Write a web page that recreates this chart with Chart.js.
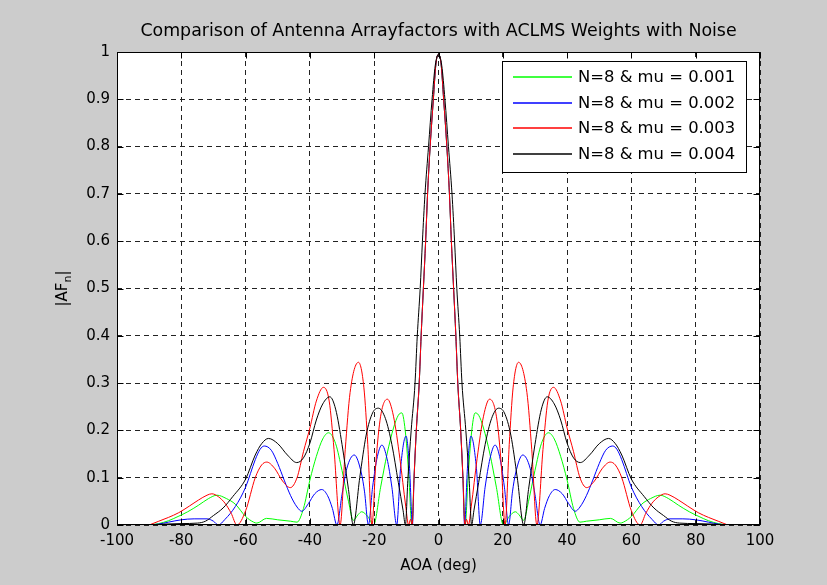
<!DOCTYPE html>
<html>
<head>
<meta charset="utf-8">
<script src="https://cdn.jsdelivr.net/npm/chart.js@4.4.0/dist/chart.umd.min.js"></script>
<style>
  body { margin: 0; background: #cccccc; }
  #wrap { width: 827px; height: 585px; }
</style>
</head>
<body>
<div id="wrap"><canvas id="afChart" width="827" height="585"></canvas></div>
<script>
/* ------------------------------------------- */
/* DATA -------------------------------------- */
/* ------------------------------------------- */
let xTicks = [-100, -80, -60, -40, -20, 0, 20, 40, 60, 80, 100];
let yTicks = [0, 0.1, 0.2, 0.3, 0.4, 0.5, 0.6, 0.7, 0.8, 0.9, 1];
let labels = ["N=8 & mu = 0.001", "N=8 & mu = 0.002", "N=8 & mu = 0.003", "N=8 & mu = 0.004"];

let aoaGreen = [-90,-87,-84,-81,-78,-74.6,-71.5,-68.9,-66,-63.2,-60,-57.5,-56.5,-53.5,-50,-46,-44,-42,-40,-38,-36,-34.2,-32,-30,-28,-26.5,-25,-23.9,-22,-20.2,-18,-16,-14,-12.5,-11.4,-10.2,-9.2,-8.3,-7.6,-6.9,-6,-5.4,-4.7,-4,-3.4,-2.6,-1.6,-0.8,
  0,0.8,1.6,2.6,3.4,4,4.7,5.4,6,6.9,7.6,8.3,9.2,10.2,11.4,12.5,14,16,18,20.2,22,23.9,25,26.5,28,30,32,34.2,36,38,40,42,44,46,50,53.5,56.5,57.5,60,63.2,66,68.9,71.5,74.6,78,81,84,87,90];
let afGreen = [0,0.003,0.009,0.018,0.028,0.042,0.056,0.063,0.056,0.044,0.018,0.006,0.004,0.014,0.011,0.008,0.006,0.035,0.095,0.145,0.182,0.195,0.172,0.115,0.05,0.01,0.022,0.028,0.018,0,0.08,0.15,0.205,0.232,0.237,0.19,0.1,0,0.1,0.2,0.3,0.4,0.5,0.6,0.7,0.8,0.9,0.975,
  0.995,0.975,0.9,0.8,0.7,0.6,0.5,0.4,0.3,0.2,0.1,0,0.1,0.19,0.237,0.232,0.205,0.15,0.08,0,0.018,0.028,0.022,0.01,0.05,0.115,0.172,0.195,0.182,0.145,0.095,0.035,0.006,0.008,0.011,0.014,0.004,0.006,0.018,0.044,0.056,0.063,0.056,0.042,0.028,0.018,0.009,0.003,0];

let aoaBlue = [-90,-87,-84,-80,-76,-72,-70,-68.5,-66.4,-63.2,-60,-57,-55.5,-54.2,-52,-50,-48,-46,-44,-42.5,-40.5,-38.5,-36.3,-34.5,-33,-31.6,-30,-28.5,-26.2,-24,-23,-21.8,-20.5,-19,-17.6,-16,-14.5,-13,-11.8,-10.1,-9,-8.1,-7.6,-6.9,-6,-5.4,-4.7,-4,-3.4,-2.6,-1.6,-0.8,
  0,0.8,1.6,2.6,3.4,4,4.7,5.4,6,6.9,7.6,8.1,9,10.1,11.8,13,14.5,16,17.6,19,20.5,21.8,23,24,26.2,28.5,30,31.6,33,34.5,36.3,38.5,40.5,42.5,44,46,48,50,52,54.2,55.5,57,60,63.2,66.4,68.5,70,72,76,80,84,87,90];
let afBlue = [0,0.002,0.006,0.011,0.013,0.013,0.008,0,0.012,0.039,0.08,0.138,0.16,0.167,0.158,0.13,0.095,0.062,0.038,0.029,0.045,0.066,0.075,0.062,0.035,0,0.065,0.12,0.148,0.11,0.07,0,0.08,0.145,0.169,0.14,0.08,0,0.12,0.188,0.12,0,0.1,0.2,0.3,0.4,0.5,0.6,0.7,0.8,0.9,0.975,
  0.995,0.975,0.9,0.8,0.7,0.6,0.5,0.4,0.3,0.2,0.1,0,0.12,0.188,0.12,0,0.08,0.14,0.169,0.145,0.08,0,0.07,0.11,0.148,0.12,0.065,0,0.035,0.062,0.075,0.066,0.045,0.029,0.038,0.062,0.095,0.13,0.158,0.167,0.16,0.138,0.08,0.039,0.012,0,0.008,0.013,0.013,0.011,0.006,0.002,0];

let aoaRed = [-90,-87,-84,-80.8,-77.5,-74.6,-72,-70.5,-68.5,-66.4,-64.5,-62.7,-60,-57,-55,-53.4,-51,-48.5,-46.1,-44,-42,-40,-38,-35.8,-34,-32.5,-30.6,-29,-27.5,-24.9,-23.2,-22,-20.7,-19.5,-18,-15.9,-14,-12,-10.2,-9.3,-8.7,-8.2,-7.6,-6.9,-6,-5.4,-4.7,-4,-3.4,-2.6,-1.6,-0.8,
  0,0.8,1.6,2.6,3.4,4,4.7,5.4,6,6.9,7.6,8.2,8.7,9.3,10.2,12,14,15.9,18,19.5,20.7,22,23.2,24.9,27.5,29,30.6,32.5,34,35.8,38,40,42,44,46.1,48.5,51,53.4,55,57,60,62.7,64.5,66.4,68.5,70.5,72,74.6,77.5,80.8,84,87,90];
let afRed = [0,0.008,0.016,0.026,0.04,0.053,0.063,0.066,0.06,0.046,0.025,0,0.03,0.1,0.127,0.133,0.12,0.093,0.079,0.1,0.155,0.205,0.262,0.291,0.262,0.16,0,0.16,0.28,0.344,0.29,0.17,0,0.13,0.23,0.266,0.23,0.14,0.04,0,0.012,0,0.1,0.2,0.3,0.4,0.5,0.6,0.7,0.8,0.9,0.975,
  0.995,0.975,0.9,0.8,0.7,0.6,0.5,0.4,0.3,0.2,0.1,0,0.012,0,0.04,0.14,0.23,0.266,0.23,0.13,0,0.17,0.29,0.344,0.28,0.16,0,0.16,0.262,0.291,0.262,0.205,0.155,0.1,0.079,0.093,0.12,0.133,0.127,0.1,0.03,0,0.025,0.046,0.06,0.066,0.063,0.053,0.04,0.026,0.016,0.008,0];

let aoaBlack = [-90,-85,-80,-75,-72.5,-70,-67,-64,-60,-57,-55,-52.9,-50,-47,-44.1,-42,-40,-38,-36,-33.8,-32,-30,-28,-26.5,-24.5,-22.5,-20.5,-18.7,-16.5,-14.5,-12.5,-11,-10.3,-9.5,-8.5,-7.3,-6.6,-5.7,-5,-4.2,-3.1,-2,-1,
  0,1,2,3.1,4.2,5,5.7,6.6,7.3,8.5,9.5,10.3,11,12.5,14.5,16.5,18.7,20.5,22.5,24.5,26.5,28,30,32,33.8,36,38,40,42,44.1,47,50,52.9,55,57,60,64,67,70,72.5,75,80,85,90];
let afBlack = [0,0.002,0.003,0.004,0.008,0.02,0.036,0.06,0.097,0.148,0.172,0.183,0.172,0.148,0.132,0.142,0.173,0.222,0.256,0.271,0.245,0.17,0.075,0,0.1,0.19,0.237,0.247,0.225,0.17,0.09,0.03,0,0.1,0.2,0.3,0.4,0.5,0.6,0.7,0.8,0.9,0.972,
  0.995,0.972,0.9,0.8,0.7,0.6,0.5,0.4,0.3,0.2,0.1,0,0.03,0.09,0.17,0.225,0.247,0.237,0.19,0.1,0,0.075,0.17,0.245,0.271,0.256,0.222,0.173,0.142,0.132,0.148,0.172,0.183,0.172,0.148,0.097,0.06,0.036,0.02,0.008,0.004,0.003,0.002,0];

let lineColors = ['#00ff00', '#0000ff', '#ff0000', '#000000'];

function toPoints(xs, ys) {
  return xs.map((x, i) => ({x: x, y: ys[i]}));
}

/* ------------------------------------------- */
/* MATLAB-LIKE DECORATION -------------------- */
/* ------------------------------------------- */
let FONT = '"DejaVu Sans", sans-serif';

let matlabLook = {
  id: 'matlabLook',
  beforeDraw(chart) {
    let ctx = chart.ctx;
    let a = chart.chartArea;
    ctx.save();
    ctx.fillStyle = '#cccccc';
    ctx.fillRect(0, 0, chart.width, chart.height);
    ctx.fillStyle = '#ffffff';
    ctx.fillRect(a.left, a.top, a.right - a.left, a.bottom - a.top);
    ctx.restore();
  },
  afterDraw(chart) {
    let ctx = chart.ctx;
    let a = chart.chartArea;
    let xs = chart.scales.x;
    let ys = chart.scales.y;
    let L = Math.round(a.left) + 0.5, R = Math.round(a.right) - 0.5;
    let T = Math.round(a.top) + 0.5, B = Math.round(a.bottom) - 0.5;
    ctx.save();
    ctx.strokeStyle = '#000';
    ctx.lineWidth = 1;
    ctx.setLineDash([]);
    ctx.strokeRect(L, T, R - L, B - T);

    // inward tick marks on all four sides
    ctx.beginPath();
    xTicks.forEach(v => {
      let px = Math.round(xs.getPixelForValue(v)) + 0.5;
      ctx.moveTo(px, B); ctx.lineTo(px, B - 6);
      ctx.moveTo(px, T); ctx.lineTo(px, T + 6);
    });
    yTicks.forEach(v => {
      let py = Math.round(ys.getPixelForValue(v)) + 0.5;
      ctx.moveTo(L, py); ctx.lineTo(L + 6, py);
      ctx.moveTo(R, py); ctx.lineTo(R - 6, py);
    });
    ctx.stroke();

    // title
    ctx.fillStyle = '#000';
    ctx.font = '17.4px ' + FONT;
    ctx.textAlign = 'center';
    ctx.textBaseline = 'middle';
    ctx.fillText('Comparison of Antenna Arrayfactors with ACLMS Weights with Noise', (a.left + a.right) / 2, 31);

    // x label
    ctx.font = '15px ' + FONT;
    ctx.fillText('AOA (deg)', (a.left + a.right) / 2, 566);

    // y label |AF_n|
    ctx.save();
    ctx.translate(63, (a.top + a.bottom) / 2);
    ctx.rotate(-Math.PI / 2);
    ctx.textAlign = 'left';
    ctx.textBaseline = 'middle';
    let big = '15px ' + FONT, small = '11px ' + FONT;
    ctx.font = big; let w1 = ctx.measureText('|AF').width;
    ctx.font = small; let w2 = ctx.measureText('n').width;
    ctx.font = big; let w3 = ctx.measureText('|').width;
    let x0 = -(w1 + w2 + w3) / 2;
    ctx.font = big; ctx.fillText('|AF', x0, 0);
    ctx.font = small; ctx.fillText('n', x0 + w1, 5);
    ctx.font = big; ctx.fillText('|', x0 + w1 + w2, 0);
    ctx.restore();

    // legend box
    let bx = 502, by = 61, bw = 244, bh = 111;
    ctx.fillStyle = '#fff';
    ctx.fillRect(bx, by, bw, bh);
    ctx.strokeStyle = '#000';
    ctx.strokeRect(bx + 0.5, by + 0.5, bw, bh);
    ctx.font = '16.4px ' + FONT;
    ctx.textAlign = 'left';
    ctx.textBaseline = 'middle';
    labels.forEach((lab, i) => {
      let ry = Math.round(77 + i * 25.7);
      ctx.strokeStyle = lineColors[i];
      ctx.lineWidth = 1.3;
      ctx.beginPath();
      ctx.moveTo(513, ry);
      ctx.lineTo(572, ry);
      ctx.stroke();
      ctx.fillStyle = '#000';
      ctx.fillText(lab, 578, ry + 1);
    });
    ctx.restore();
  }
};

/* ------------------------------------------- */
/* CHART ------------------------------------- */
/* ------------------------------------------- */
let series = [
  toPoints(aoaGreen, afGreen),
  toPoints(aoaBlue, afBlue),
  toPoints(aoaRed, afRed),
  toPoints(aoaBlack, afBlack)
];

let afChart = new Chart(document.getElementById('afChart').getContext('2d'), {
  type: 'line',
  data: {
    datasets: series.map((pts, i) => ({
      label: labels[i],
      data: pts,
      order: 3 - i,            // black drawn last, like plot() order
      borderColor: lineColors[i],
      backgroundColor: lineColors[i],
      borderWidth: 1,
      pointRadius: 0,
      fill: false,
      cubicInterpolationMode: 'monotone'
    }))
  },
  options: {
    responsive: false,
    animation: false,
    devicePixelRatio: 1,
    layout: { padding: { top: 52, right: 67, bottom: 0, left: 0 } },
    plugins: { legend: { display: false }, tooltip: { enabled: false } },
    scales: {
      x: {
        type: 'linear',
        min: -100, max: 100,
        afterFit: (s) => { s.height = 60; },
        afterBuildTicks: (s) => { s.ticks = xTicks.map(v => ({value: v})); },
        ticks: {
          padding: 7,
          color: '#000',
          font: { family: FONT, size: 15 },
          maxRotation: 0,
          callback: (v) => String(v)
        },
        grid: { color: '#222', drawTicks: false },
        border: { display: false, dash: [5, 4] }
      },
      y: {
        type: 'linear',
        min: 0, max: 1,
        afterFit: (s) => { s.width = 117; },
        afterBuildTicks: (s) => { s.ticks = yTicks.map(v => ({value: v})); },
        ticks: {
          padding: 7,
          color: '#000',
          font: { family: FONT, size: 15 },
          callback: (v) => String(Math.round(v * 10) / 10)
        },
        grid: { color: '#222', drawTicks: false },
        border: { display: false, dash: [5, 4] }
      }
    }
  },
  plugins: [matlabLook]
});
</script>
</body>
</html>
